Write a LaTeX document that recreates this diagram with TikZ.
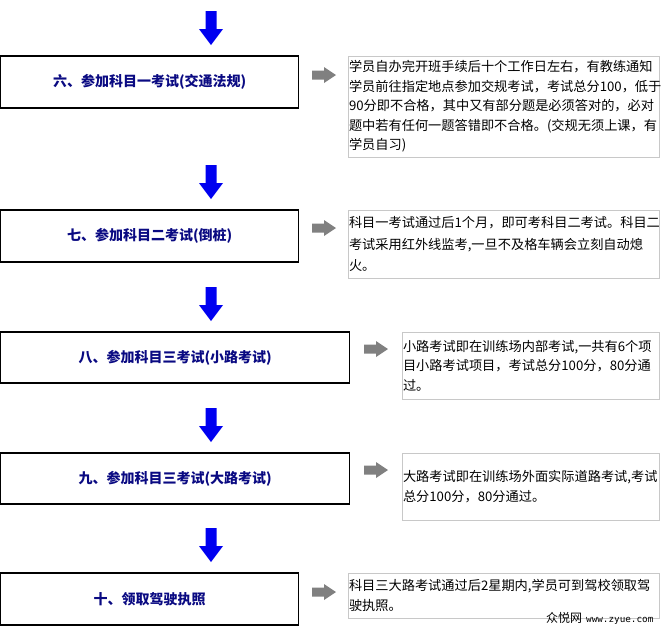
\documentclass[tikz,border=0pt]{standalone}
\usepackage{fontspec}
\setmainfont{Noto Sans CJK SC}
\setmonofont{DejaVu Sans Mono}
\definecolor{navyc}{RGB}{10,10,130}
\definecolor{arrowblue}{RGB}{0,0,240}
\definecolor{arrowgray}{RGB}{128,128,128}
\definecolor{boxgray}{RGB}{200,200,200}
\begin{document}
\begin{tikzpicture}[x=1pt,y=-1pt,
  titlebox/.style={draw=black, line width=1.3pt, inner sep=0pt, outer sep=0pt, anchor=north west,
    font=\fontsize{14}{16}\selectfont\bfseries, text=navyc},
  descbox/.style={draw=boxgray, line width=1pt, inner sep=1pt, outer sep=0pt, anchor=north west,
    align=left, font=\fontsize{13.2}{19.5}\selectfont},
  blockdown/.pic={\fill[arrowblue] (-5.5,0) -- (5.5,0) -- (5.5,18) -- (12,18) -- (0,34) -- (-12,18) -- (-5.5,18) -- cycle;},
  blockright/.pic={\fill[arrowgray] (0,-4.5) -- (12,-4.5) -- (12,-8) -- (24,0) -- (12,8) -- (12,4.5) -- (0,4.5) -- cycle;}
]
\useasboundingbox (0,0) rectangle (662,627);

% title boxes
\node[titlebox, minimum width=298pt, minimum height=52pt] (t1) at (0.65,56) {六、参加科目一考试(交通法规)};
\node[titlebox, minimum width=298pt, minimum height=52pt] (t2) at (0.65,210) {七、参加科目二考试(倒桩)};
\node[titlebox, minimum width=349pt, minimum height=51pt] (t3) at (0.65,332) {八、参加科目三考试(小路考试)};
\node[titlebox, minimum width=349pt, minimum height=51pt] (t4) at (0.65,453) {九、参加科目三考试(大路考试)};
\node[titlebox, minimum width=298pt, minimum height=52pt] (t5) at (0.65,573) {十、领取驾驶执照};

% description boxes
\node[descbox, text width=309pt, minimum height=101pt] (d1) at (348,56)
  {学员自办完开班手续后十个工作日左右，有教练通知\\
   学员前往指定地点参加交规考试，考试总分100，低于\\
   90分即不合格，其中又有部分题是必须答对的，必对\\
   题中若有任何一题答错即不合格。(交规无须上课，有\\
   学员自习)};
\node[descbox, text width=309pt, minimum height=68pt, font=\fontsize{13.2}{21.5}\selectfont] (d2) at (348,210)
  {科目一考试通过后1个月，即可考科目二考试。科目二\\
   考试采用红外线监考,一旦不及格车辆会立刻自动熄\\
   火。};
\node[descbox, text width=255pt, minimum height=67pt] (d3) at (402,332)
  {小路考试即在训练场内部考试,一共有6个项\\
   目小路考试项目，考试总分100分，80分通\\
   过。};
\node[descbox, text width=255pt, minimum height=67pt] (d4) at (402,453)
  {大路考试即在训练场外面实际道路考试,考试\\
   总分100分，80分通过。};
\node[descbox, text width=309pt, minimum height=45pt] (d5) at (348,573)
  {科目三大路考试通过后2星期内,学员可到驾校领取驾\\
   驶执照。};

% blue down arrows
\pic at (211,11) {blockdown};
\pic at (211,165) {blockdown};
\pic at (211,287) {blockdown};
\pic at (211,408) {blockdown};
\pic at (211,528) {blockdown};

% gray right arrows
\pic at (312,75) {blockright};
\pic at (312,228) {blockright};
\pic at (364,349) {blockright};
\pic at (364,470) {blockright};
\pic at (312,592) {blockright};

% watermark
\node[anchor=base west, inner sep=0pt, font=\fontsize{12}{12}\selectfont] (wm) at (546,622)
  {众悦网\hspace{4pt}{\ttfamily\fontsize{9.3}{10}\selectfont www.zyue.com}};
\end{tikzpicture}
\end{document}
